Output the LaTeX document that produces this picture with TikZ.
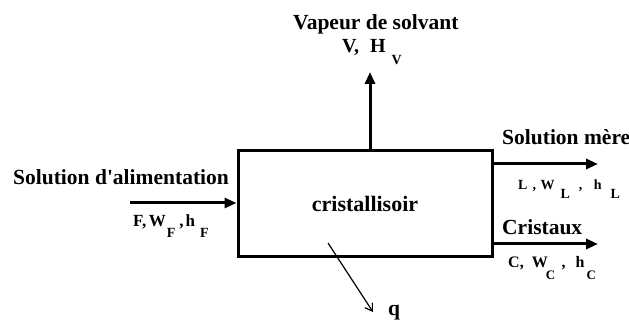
\documentclass[tikz,border=0pt]{standalone}
\usepackage{fontspec}
\setmainfont{Liberation Serif}
\newfontfamily\rawfont{Liberation Serif}[Ligatures=TeXOff]
\usetikzlibrary{arrows.meta}
\newcommand\lowr[2][9pt]{\raisebox{-#1}{#2}}
\newcommand\fsz[1]{\fontsize{#1}{#1}\selectfont}
\begin{document}
\begin{tikzpicture}[x=1pt,y=-1pt,
  lbl/.style={font=\bfseries\fsz{21.5}, inner sep=0pt, anchor=base west},
  sml/.style={font=\bfseries, inner sep=0pt, anchor=base west},
  flow/.style={line width=3pt, -{Triangle[length=12pt,width=10pt]}},
  heat/.style={line width=1.2pt, -{Straight Barb[length=7pt,width=9pt,line width=1.2pt]}},
]
\useasboundingbox (0,0) rectangle (629,320);
\node[draw, line width=3pt, minimum width=254pt, minimum height=106pt, inner sep=0pt,
  font=\bfseries\fsz{22}] (box) at (365,204) {cristallisoir};
% free ends
\coordinate (vtop) at (370,72);
\coordinate (fin) at (130,203);
\coordinate (lout) at (598,164);
\coordinate (cout) at (598,244);
\coordinate (qs) at (328,243);
\coordinate (qe) at (373,312);
% arrows
\draw[flow] (box.north -| vtop) -- (vtop);
\draw[flow] (fin) -- (box.west |- fin);
\draw[flow] (box.east |- lout) -- (lout);
\draw[flow] (box.east |- cout) -- (cout);
\draw[heat] (qs) -- (qe);
% labels
\node[lbl] (tv) at (293,30) {Vapeur de solvant};
\node[sml, font=\bfseries\fsz{20}] (tvh) at (342,53)
  {V,\hspace{11pt}H\hspace{6pt}\lowr[12pt]{\fsz{14}V}};
\node[lbl] (tf) at (13,185) {Solution d{\rawfont\bfseries '}alimentation};
\node[sml, font=\bfseries\fsz{17}] (tfv) at (133,227)
  {F,\hspace{2.5pt}W\hspace{1pt}\lowr[11pt]{\fsz{14}F}\hspace{4pt},\hspace{2pt}h\hspace{5pt}\lowr[11pt]{\fsz{14}F}};
\node[lbl] (tl) at (502,145) {Solution mère};
\node[sml, font=\bfseries\fsz{14}] (tlv) at (518,190)
  {L\hspace{5pt},\hspace{4.5pt}W\hspace{6pt}\lowr[9pt]{L}\hspace{9pt},\hspace{11.5pt}h\hspace{9pt}\lowr[9pt]{L}};
\node[lbl] (tc) at (502,235) {Cristaux};
\node[sml, font=\bfseries\fsz{16}] (tcv) at (508,268)
  {C,\hspace{8pt}W\hspace{-2pt}\lowr[12pt]{\fsz{13}C}\hspace{6.5pt},\hspace{10pt}h\hspace{2pt}\lowr[12pt]{\fsz{13}C}};
\node[lbl] (tq) at (388,316) {q};
\end{tikzpicture}
\end{document}
